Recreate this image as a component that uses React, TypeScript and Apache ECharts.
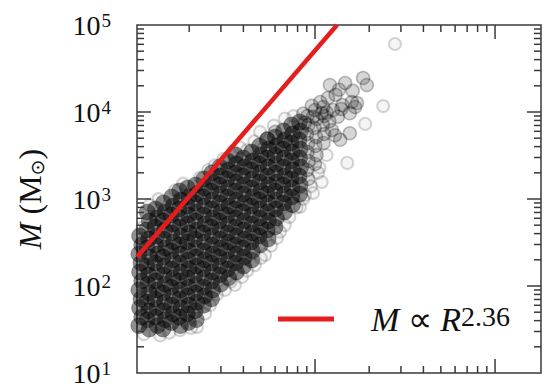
import React, { useEffect, useRef } from "react";
import * as echarts from "echarts";

const SERIF = "'Liberation Serif', 'Times New Roman', serif";

// Axis ranges (R arbitrary radius units, M in solar masses)
const xRange = [1.026, 180];
const yRange = [10, 100000];

// Tick values
const xMajorTicks = [10, 100];
const xMinorTicks = [2, 3, 4, 5, 6, 7, 8, 9, 20, 30, 40, 50, 60, 70, 80, 90];
const yMajorTicks = [100, 1000, 10000];
const yMinorTicks = [
  20, 30, 40, 50, 60, 70, 80, 90,
  200, 300, 400, 500, 600, 700, 800, 900,
  2000, 3000, 4000, 5000, 6000, 7000, 8000, 9000,
  20000, 30000, 40000, 50000, 60000, 70000, 80000, 90000,
];

// Fit line M ∝ R^2.36 (end points)
const fitR = [1.026, 13.25];
const fitM = [215, 100000];
const fitLabel = "fit";

// Dense part of the cloud [R, M]
const coreCloud = [
  [1.06,376],[1.09,296],[1.05,233],[1.08,184],[1.06,145],[1.09,114],[1.05,90],[1.08,71],[1.06,56],[1.09,44],[1.05,35],
  [1.17,709],[1.2,559],[1.16,440],[1.19,347],[1.17,273],[1.21,215],[1.16,170],[1.19,134],[1.18,105],[1.2,83],[1.16,65],[1.19,52],[1.17,41],[1.2,32],
  [1.3,768],[1.33,605],[1.29,477],[1.32,376],[1.3,296],[1.34,233],[1.29,184],[1.32,145],[1.3,114],[1.33,90],[1.29,71],[1.32,56],[1.3,44],[1.33,35],
  [1.44,900],[1.47,709],[1.43,559],[1.46,440],[1.44,347],[1.48,273],[1.43,215],[1.46,170],[1.45,134],[1.47,105],[1.43,83],[1.46,65],[1.44,52],[1.47,41],[1.43,32],
  [1.6,1055],[1.63,831],[1.59,655],[1.62,516],[1.6,407],[1.64,320],[1.59,253],[1.62,199],[1.6,157],[1.63,124],[1.59,97],[1.62,77],[1.6,60],[1.63,48],[1.59,38],
  [1.77,1236],[1.8,974],[1.76,768],[1.79,605],[1.77,477],[1.81,376],[1.76,296],[1.79,233],[1.78,184],[1.8,145],[1.76,114],[1.79,90],[1.77,71],[1.8,56],[1.76,44],[1.79,35],
  [1.96,1338],[1.99,1055],[1.95,831],[1.98,655],[1.96,516],[2.0,407],[1.95,320],[1.98,253],[1.97,199],[1.99,157],[1.95,124],[1.98,97],[1.96,77],[1.99,60],[1.95,48],[1.98,38],
  [2.17,1449],[2.2,1142],[2.15,900],[2.19,709],[2.17,559],[2.21,440],[2.15,347],[2.19,273],[2.18,215],[2.2,170],[2.15,134],[2.19,105],[2.17,83],[2.2,65],[2.16,52],[2.19,41],
  [2.41,1698],[2.44,1338],[2.39,1055],[2.43,831],[2.41,655],[2.45,516],[2.39,407],[2.43,320],[2.42,253],[2.44,199],[2.39,157],[2.43,124],[2.41,97],[2.44,77],[2.4,60],
  [2.67,1990],[2.7,1568],[2.65,1236],[2.69,974],[2.67,768],[2.71,605],[2.65,477],[2.69,376],[2.68,296],[2.7,233],[2.65,184],[2.69,145],[2.67,114],[2.7,90],[2.66,71],
  [2.96,2333],[2.99,1838],[2.94,1449],[2.98,1142],[2.96,900],[3.0,709],[2.94,559],[2.98,440],[2.97,347],[2.99,273],[2.94,215],[2.98,170],[2.96,134],[2.99,105],
  [3.27,2734],[3.31,2154],[3.25,1698],[3.3,1338],[3.27,1055],[3.32,831],[3.25,655],[3.3,516],[3.28,407],[3.31,320],[3.25,253],[3.3,199],[3.27,157],[3.31,124],
  [3.62,3204],[3.66,2525],[3.6,1990],[3.65,1568],[3.62,1236],[3.67,974],[3.6,768],[3.65,605],[3.63,477],[3.66,376],[3.6,296],[3.65,233],[3.62,184],[3.66,145],
  [4.0,2960],[4.06,2333],[3.98,1838],[4.04,1449],[4.01,1142],[4.07,900],[3.98,709],[4.04,559],[4.02,440],[4.06,347],[3.98,273],[4.04,215],[4.01,170],
  [4.44,3469],[4.5,2734],[4.42,2154],[4.48,1698],[4.45,1338],[4.51,1055],[4.42,831],[4.48,655],[4.46,516],[4.5,407],[4.42,320],[4.48,253],[4.45,199],
  [4.92,4066],[4.98,3204],[4.89,2525],[4.96,1990],[4.93,1568],[5.0,1236],[4.89,974],[4.96,768],[4.94,605],[4.98,477],[4.9,376],[4.96,296],
  [5.44,4766],[5.52,3756],[5.41,2960],[5.49,2333],[5.45,1838],[5.53,1449],[5.41,1142],[5.49,900],[5.46,709],[5.51,559],[5.42,440],[5.49,347],
  [6.02,5159],[6.11,4066],[5.99,3204],[6.08,2525],[6.03,1990],[6.12,1568],[5.99,1236],[6.08,974],[6.05,768],[6.1,605],[6.0,477],
  [6.68,6047],[6.78,4766],[6.64,3756],[6.75,2960],[6.69,2333],[6.79,1838],[6.64,1449],[6.75,1142],[6.7,900],[6.77,709],
  [7.4,7088],[7.5,5586],[7.35,4402],[7.47,3469],[7.41,2734],[7.52,2154],[7.36,1698],[7.47,1338],[7.42,1055],[7.5,860],
  [8.2,7674],[8.3,6047],[8.15,4766],[8.27,3756],[8.21,2960],[8.33,2333],[8.16,1838],[8.28,1449],[8.22,1142],
];

// Sparser upper-right part
const sparseCloud = [
  [9.08,8994],[9.2,7088],[9.03,5586],[9.17,4402],[9.1,3469],[9.22,2734],[9.05,2154],[9.18,1698],
  [10.0,10540],[10.2,8308],[9.95,6547],[10.15,5159],[10.05,4066],[10.2,3204],[10.0,2525],
  [11.1,11410],[11.3,8994],[11.05,7088],[11.25,5586],[11.15,4402],
  [12.1,20400],[14.7,21500],[18.5,24600],[19.4,20400],[15.6,5700],[10.7,13000],[8.8,7500],
  [16.0,13000],[16.7,11400],[13.4,8800],[12.6,10500],[9.75,8800],[13.8,4800],[15.6,9700],
  [17.1,12700],[10.9,9700],[6.0,5900],[5.41,5000],
  [12.0,7800],[12.4,6200],[11.8,14500],[13.0,15800],[14.2,12000],[13.6,18000],[16.2,17500],
  [12.9,5400],[11.6,9900],[14.0,10800],[9.6,11800],[8.6,9600],
];

// Faint isolated objects and the halo round the cloud
const faintPoints = [
  [27.8,60500],[23.9,11700],[19.0,7300],[15.1,2600],[11.6,3200],[4.19,3660],[3.93,127],
  [6.15,356],[8.25,809],[9.75,1172],[10.9,1568],[2.21,33.8],
  [3.16,90],[4.64,174],[6.8,501],[8.8,1110],[5.28,227],[3.59,103],[2.61,60],[1.78,31],[1.38,27],
  [1.21,849],[1.67,1260],[2.3,1760],[2.78,2440],[3.83,3900],[4.95,5900],[6.8,8400],
  [1.12,28],[1.55,29],[2.05,33],[2.45,48],[2.85,80],[3.4,112],[4.2,150],[5.0,210],[5.7,290],
  [6.4,420],[7.2,620],[7.9,800],[8.6,1000],[9.5,1400],[10.4,2000],[10.6,2300],
  [1.1,470],[1.35,1000],[1.85,1500],[2.55,2150],[3.1,2900],[3.5,3500],[4.6,4600],[5.9,7000],[7.6,9000],
];

function tickSeries(values: number[], axis: "x" | "y", len: number) {
  return {
    type: "custom",
    silent: true,
    clip: false,
    z: 10,
    data: values.map((v) => (axis === "x" ? [v, yRange[0]] : [xRange[0] * 2, v])),
    renderItem: (params: any, api: any) => {
      const cs = params.coordSys;
      const style = { stroke: "#3a3a3a", lineWidth: 1.5 };
      if (axis === "x") {
        const px = api.coord([api.value(0), yRange[0]])[0];
        return {
          type: "group",
          children: [
            { type: "line", shape: { x1: px, y1: cs.y + cs.height, x2: px, y2: cs.y + cs.height - len }, style },
            { type: "line", shape: { x1: px, y1: cs.y, x2: px, y2: cs.y + len }, style },
          ],
        };
      }
      const py = api.coord([xRange[0] * 2, api.value(1)])[1];
      return {
        type: "group",
        children: [
          { type: "line", shape: { x1: cs.x, y1: py, x2: cs.x + len, y2: py }, style },
          { type: "line", shape: { x1: cs.x + cs.width, y1: py, x2: cs.x + cs.width - len, y2: py }, style },
        ],
      };
    },
  };
}

export default function App() {
  const ref = useRef<HTMLDivElement>(null);
  useEffect(() => {
    if (!ref.current) return;
    const chart = echarts.init(ref.current, undefined, { renderer: "svg" });
    const option: any = {
      animation: false,
      backgroundColor: "#ffffff",
      grid: {
        left: 137,
        top: 25,
        right: 3,
        bottom: 15,
        show: true,
        borderColor: "#3a3a3a",
        borderWidth: 1.5,
        containLabel: false,
      },
      xAxis: {
        type: "log",
        min: xRange[0],
        max: xRange[1],
        axisLine: { show: false },
        axisTick: { show: false },
        axisLabel: { show: false },
        splitLine: { show: false },
      },
      yAxis: {
        type: "log",
        min: yRange[0],
        max: yRange[1],
        axisLine: { show: false },
        axisTick: { show: false },
        splitLine: { show: false },
        axisLabel: {
          margin: 26,
          formatter: (v: number) => `{b|10}{s|${Math.round(Math.log10(v))}}`,
          rich: {
            b: { fontSize: 28, fontFamily: SERIF, color: "#111" },
            s: { fontSize: 19, fontFamily: SERIF, color: "#111", verticalAlign: "top", padding: [0, 0, 0, 1] },
          },
        },
        name: "{i|M} ({m|M}{o|⊙})",
        nameLocation: "middle",
        nameRotate: 90,
        nameGap: 91,
        nameTextStyle: {
          fontSize: 32,
          fontFamily: SERIF,
          color: "#111",
          rich: {
            i: { fontSize: 32, fontFamily: SERIF, fontStyle: "italic", color: "#111" },
            m: { fontSize: 32, fontFamily: SERIF, color: "#111" },
            o: { fontSize: 19, fontFamily: "DejaVu Sans", color: "#111", verticalAlign: "bottom" },
          },
        },
      },
      legend: {
        data: [fitLabel],
        left: 278,
        top: 302,
        padding: 0,
        icon: "rect",
        itemWidth: 56,
        itemHeight: 5,
        formatter: () => "{g|}{i|M} ∝ {i|R}{s|2.36}",
        textStyle: {
          fontSize: 34,
          fontFamily: SERIF,
          color: "#111",
          rich: {
            g: { width: 32 },
            i: { fontSize: 34, fontFamily: SERIF, fontStyle: "italic", color: "#111" },
            s: { fontSize: 28, fontFamily: SERIF, color: "#111", verticalAlign: "top" },
          },
        },
      },
      series: [
        {
          name: "faint",
          type: "scatter",
          symbol: "circle",
          symbolSize: 12,
          silent: true,
          itemStyle: { color: "rgba(0,0,0,0.05)", borderColor: "rgba(0,0,0,0.2)", borderWidth: 2 },
          data: faintPoints,
        },
        {
          name: "sparse",
          type: "scatter",
          symbol: "circle",
          symbolSize: 13,
          silent: true,
          itemStyle: { color: "rgba(0,0,0,0.2)", borderColor: "rgba(0,0,0,0.32)", borderWidth: 1.5 },
          data: sparseCloud,
        },
        {
          name: "core",
          type: "scatter",
          symbol: "circle",
          symbolSize: 16,
          silent: true,
          itemStyle: { color: "rgba(0,0,0,0.55)", borderColor: "rgba(0,0,0,0.3)", borderWidth: 1 },
          data: coreCloud,
        },
        {
          name: fitLabel,
          type: "line",
          symbol: "none",
          clip: true,
          color: "#e41d1d",
          lineStyle: { color: "#e41d1d", width: 4.5 },
          data: fitR.map((r, i) => [r, fitM[i]]),
          z: 5,
        },
        tickSeries(xMajorTicks, "x", 14),
        tickSeries(xMinorTicks, "x", 7),
        tickSeries(yMajorTicks, "y", 14),
        tickSeries(yMinorTicks, "y", 7),
      ],
    };
    chart.setOption(option);
    return () => chart.dispose();
  }, []);
  return (
    <div
      ref={ref}
      style={{ position: "fixed", left: 0, top: 0, width: 544, height: 388 }}
    />
  );
}
